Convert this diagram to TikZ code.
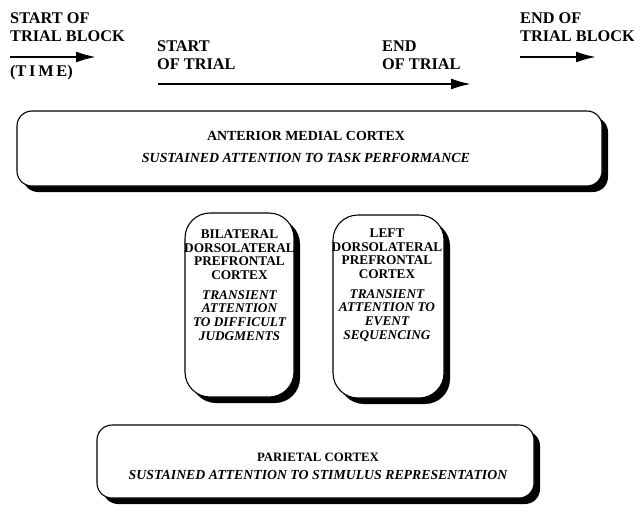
\documentclass[tikz,border=0pt]{standalone}
\usepackage{fontspec}
\setmainfont{Liberation Serif}
\usetikzlibrary{arrows.meta,shadows}
\begin{document}
\begin{tikzpicture}[x=1pt,y=-1pt,
  toplabel/.style={font=\fontsize{16.3}{18.5}\selectfont\bfseries, align=left, inner sep=0pt, anchor=west},
  timearrow/.style={line width=2pt, -{Latex[length=20pt,width=11pt]}},
  shadowbox/.style={draw=black, line width=1.1pt, fill=white, rounded corners=#1,
     drop shadow={shadow xshift=6pt, shadow yshift=-6pt, fill=black, opacity=1}},
  wideheading/.style={font=\fontsize{13.9}{21.5}\selectfont\bfseries, align=center, inner sep=0pt},
  midtext/.style={font=\fontsize{13.3}{13.6}\selectfont\bfseries, align=center, inner sep=0pt}
]
\useasboundingbox (0,0) rectangle (634,506);

% top time labels
\node[toplabel] (tbs) at (10,27) {START OF\\TRIAL BLOCK};
\node[toplabel] (time) at (10,73) {(T\,I\,M\,E)};
\node[toplabel] (st) at (157,55) {START\\OF TRIAL};
\node[toplabel] (et) at (382,55) {END\\OF TRIAL};
\node[toplabel] (tbe) at (520,27) {END OF\\TRIAL BLOCK};

\coordinate (a1s) at (10,57);
\coordinate (a1e) at (96,57);
\coordinate (a2s) at (158,84);
\coordinate (a2e) at (471,84);
\coordinate (a3s) at (520,57);
\coordinate (a3e) at (596,57);
\draw[timearrow] (a1s) -- (a1e);
\draw[timearrow] (a2s) -- (a2e);
\draw[timearrow] (a3s) -- (a3e);

% anterior medial cortex
\node[shadowbox=15pt, minimum width=585pt, minimum height=75pt] (amc) at (309.5,148.5) {};
\node[wideheading] (amct) at (306,147) {ANTERIOR MEDIAL CORTEX\\\itshape SUSTAINED ATTENTION TO TASK PERFORMANCE};

% dorsolateral prefrontal boxes
\node[shadowbox=25pt, minimum width=109pt, minimum height=184pt] (bdl) at (239.5,305) {};
\node[midtext] (bdlt) at (239.5,285) {BILATERAL\\DORSOLATERAL\\PREFRONTAL\\CORTEX\\[6.5pt]\itshape TRANSIENT\\\itshape ATTENTION\\\itshape TO DIFFICULT\\\itshape JUDGMENTS};

\node[shadowbox=25pt, minimum width=111pt, minimum height=183pt] (ldl) at (388.5,306.5) {};
\node[midtext] (ldlt) at (387,285) {LEFT\\DORSOLATERAL\\PREFRONTAL\\CORTEX\\[6.5pt]\itshape TRANSIENT\\\itshape ATTENTION TO\\\itshape EVENT\\\itshape SEQUENCING};

% parietal cortex
\node[shadowbox=15pt, minimum width=437pt, minimum height=73pt] (par) at (315.5,461.5) {};
\node[wideheading, font=\fontsize{12.8}{18}\selectfont\bfseries] (part) at (318,466) {PARIETAL CORTEX\\\fontsize{13.8}{18}\selectfont\itshape SUSTAINED ATTENTION TO STIMULUS REPRESENTATION};
\end{tikzpicture}
\end{document}
